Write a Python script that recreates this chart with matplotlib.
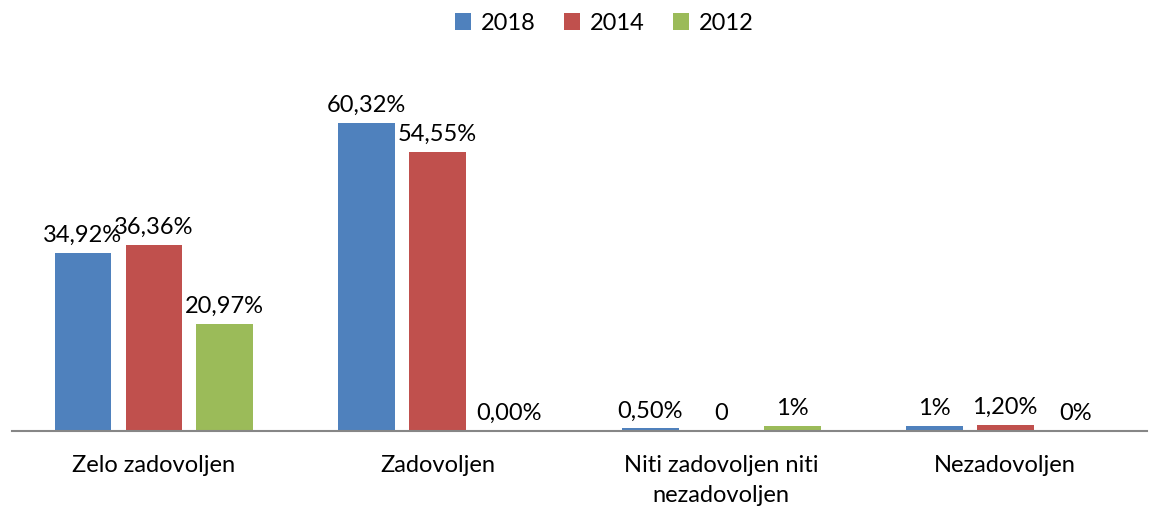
import numpy as np
import matplotlib
matplotlib.use('Agg')
import matplotlib.pyplot as plt

plt.rcParams['font.family'] = ['Lato', 'DejaVu Sans']

categories = ['Zelo zadovoljen', 'Zadovoljen', 'Niti zadovoljen niti\nnezadovoljen', 'Nezadovoljen']
years = ['2018', '2014', '2012']
v2018 = [34.92, 60.32, 0.5, 1.0]
v2014 = [36.36, 54.55, 0.0, 1.2]
v2012 = [20.97, 0.0, 1.0, 0.0]
labels2018 = ['34,92%', '60,32%', '0,50%', '1%']
labels2014 = ['36,36%', '54,55%', '0', '1,20%']
labels2012 = ['20,97%', '0,00%', '1%', '0%']

colors = ['#4F81BD', '#C0504D', '#9BBB59']
series = [v2018, v2014, v2012]
series_labels = [labels2018, labels2014, labels2012]

fig = plt.figure(figsize=(11.57, 5.11), dpi=100)
ax = fig.add_axes([12/1157, 80/511, 1135/1157, 0.72])

x = np.arange(len(categories))
width = 0.2
offsets = [-0.25, 0, 0.25]

for vals, labs, col, yr, off in zip(series, series_labels, colors, years, offsets):
    bars = ax.bar(x + off, vals, width, color=col, label=yr)
    for b, lab in zip(bars, labs):
        ax.annotate(lab, (b.get_x() + b.get_width()/2, b.get_height()),
                    xytext=(0, 5), textcoords='offset points',
                    ha='center', va='bottom', fontsize=17, color='#000000')

ax.set_xlim(-0.5, 3.5)
ax.set_ylim(0, 72)

for s in ['top', 'right', 'left']:
    ax.spines[s].set_visible(False)
ax.spines['bottom'].set_color('#868686')
ax.spines['bottom'].set_linewidth(1.5)
ax.set_yticks([])
ax.set_xticks(x)
ax.set_xticklabels(categories, fontsize=17, linespacing=1.55)
ax.tick_params(axis='x', length=0, pad=17)

ax.legend(loc='upper center', bbox_to_anchor=(604/1157, 1.017), bbox_transform=fig.transFigure,
          ncol=3, frameon=False, fontsize=17, handlelength=0.7, handleheight=0.7,
          handletextpad=0.4, columnspacing=1.2)

fig.savefig('out.png', dpi=100)
